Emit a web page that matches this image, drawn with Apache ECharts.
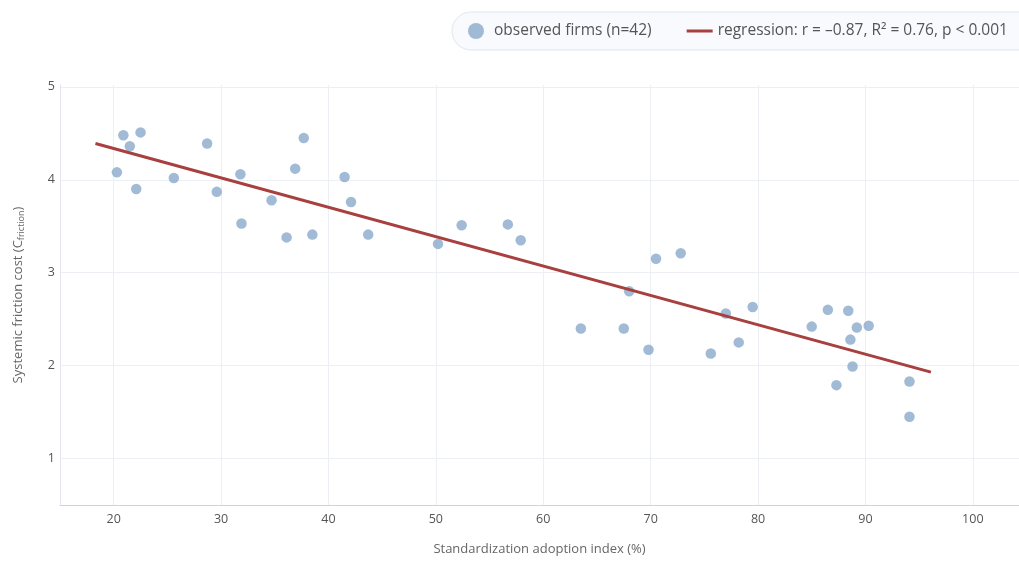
<!DOCTYPE html>
<html>
<head>
<meta charset="utf-8">
<script src="https://cdn.jsdelivr.net/npm/echarts@6/dist/echarts.min.js"></script>
<style>
  html, body { margin: 0; padding: 0; background: #fff; }
  #chart { width: 1019px; height: 561px; }
</style>
</head>
<body>
<div id="chart"></div>
<script>
// observed firms: adoption index (%) and friction cost
const adoption = [20.3, 20.9, 21.5, 22.5, 22.1, 25.6, 28.7, 29.6, 31.8, 31.9, 34.7, 36.1, 36.9, 37.7,
  38.5, 41.5, 42.1, 43.7, 50.2, 52.4, 56.7, 57.9, 63.5, 67.5, 68.0, 69.8, 70.5, 72.8,
  75.6, 77.0, 78.2, 79.5, 85.0, 86.5, 87.3, 88.4, 88.6, 88.8, 89.2, 90.3, 94.1, 94.1]
const friction = [4.08, 4.48, 4.36, 4.51, 3.90, 4.02, 4.39, 3.87, 4.06, 3.53, 3.78, 3.38, 4.12, 4.45,
  3.41, 4.03, 3.76, 3.41, 3.31, 3.51, 3.52, 3.35, 2.40, 2.40, 2.80, 2.17, 3.15, 3.21,
  2.13, 2.56, 2.25, 2.63, 2.42, 2.60, 1.79, 2.59, 2.28, 1.99, 2.41, 2.43, 1.83, 1.45]

// regression line end points
const fitX = [18.3, 96.1]
const fitY = [4.39, 1.93]

const xTicks = [20, 30, 40, 50, 60, 70, 80, 90, 100]
const yTicks = [1, 2, 3, 4, 5]

const pointName = 'observed firms (n=42)'
const lineName = 'regression: r = \u20130.87, R\u00b2 = 0.76, p < 0.001'

const font = '"Open Sans", "Noto Sans", sans-serif'
const red = '#a8403f'

const myChart = echarts.init(document.getElementById('chart'))
myChart.setOption({
  animation: false,
  textStyle: { fontFamily: font },
  legend: {
    left: 452,
    top: 12,
    width: 700,
    padding: [11, 40, 11, 16],
    backgroundColor: '#f8fafd',
    borderColor: '#dfe5ee',
    borderWidth: 1,
    borderRadius: 20,
    itemWidth: 26,
    itemHeight: 16,
    itemGap: 35,
    textStyle: { fontSize: 15.5, color: '#555', fontFamily: font },
    data: [
      { name: pointName, icon: 'circle' },
      // thin bar for the fitted line
      { name: lineName, icon: 'path://M0,0H26V3H0Z', itemStyle: { color: red, borderWidth: 0 } }
    ]
  },
  grid: { left: 60, right: 0, top: 85, bottom: 55 },
  xAxis: {
    type: 'value',
    min: 15,
    max: 104.3,
    name: 'Standardization adoption index (%)',
    nameLocation: 'middle',
    nameGap: 38,
    nameTextStyle: { fontSize: 13, color: '#666', fontFamily: font },
    axisLine: { lineStyle: { color: '#cfd4db' } },
    axisTick: { show: false, customValues: xTicks },
    axisLabel: { customValues: xTicks, color: '#555', fontSize: 12.5, margin: 8 },
    splitLine: { lineStyle: { color: '#eceff4' } }
  },
  yAxis: {
    type: 'value',
    min: 0.5,
    max: 5.02,
    name: 'Systemic friction cost (C{sub|friction})',
    nameLocation: 'middle',
    nameGap: 34,
    nameTextStyle: {
      fontSize: 13, color: '#666', fontFamily: font, lineHeight: 16,
      rich: {
        sub: { fontSize: 9, color: '#666', fontFamily: font, lineHeight: 8, verticalAlign: 'bottom' }
      }
    },
    axisLine: { show: true, lineStyle: { color: '#e3e7ed' } },
    axisTick: { show: false, customValues: yTicks },
    axisLabel: { customValues: yTicks, color: '#555', fontSize: 12.5, margin: 5 },
    splitLine: { lineStyle: { color: '#eceff4' } }
  },
  series: [
    {
      name: pointName,
      type: 'scatter',
      symbol: 'circle',
      symbolSize: 10.5,
      itemStyle: { color: '#8aa9cb' },
      data: adoption.map((x, i) => [x, friction[i]]),
      z: 2
    },
    {
      name: lineName,
      type: 'line',
      symbol: 'none',
      lineStyle: { color: red, width: 3 },
      itemStyle: { color: red },
      data: fitX.map((x, i) => [x, fitY[i]]),
      z: 3
    }
  ]
})
</script>
</body>
</html>
